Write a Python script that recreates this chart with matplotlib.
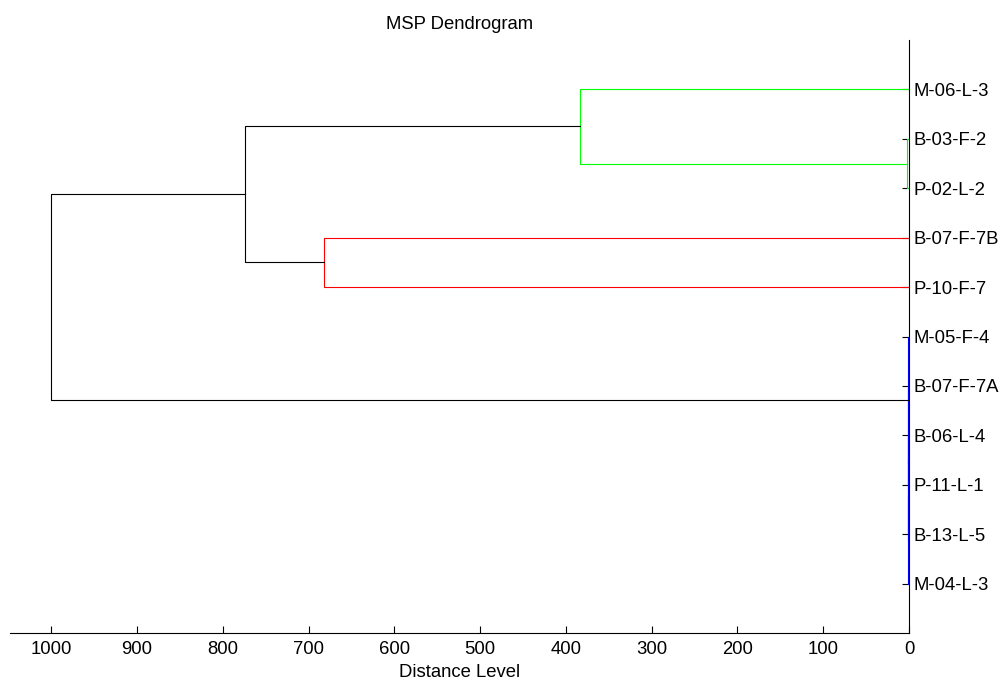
import matplotlib.pyplot as plt

plt.rcParams['font.family'] = ['Liberation Sans', 'DejaVu Sans']

# leaves, top to bottom
leaves = ["M-06-L-3", "B-03-F-2", "P-02-L-2", "B-07-F-7B", "P-10-F-7",
          "M-05-F-4", "B-07-F-7A", "B-06-L-4", "P-11-L-1", "B-13-L-5", "M-04-L-3"]

# merges: (left node, right node, distance, colour). nodes 0..10 are leaves,
# node 11+ is the i-th merge in this list
merges = [
    (1, 2, 2.0, "#00ff00"),       # 11
    (0, 11, 383.0, "#00ff00"),    # 12
    (3, 4, 682.0, "#ff0000"),     # 13
    (12, 13, 774.0, "black"),     # 14
    (7, 8, 1.0, "#0000ff"),       # 15
    (15, 9, 1.1, "#0000ff"),      # 16
    (16, 10, 1.2, "#0000ff"),     # 17
    (6, 17, 1.3, "#0000ff"),      # 18
    (5, 18, 1.4, "#0000ff"),      # 19
    (14, 19, 1000.0, "black"),    # 20
]


def build_positions():
    pos = {i: i + 1 for i in range(len(leaves))}
    dist = {i: 0.0 for i in range(len(leaves))}
    for k, (a, b, d, c) in enumerate(merges):
        n = len(leaves) + k
        pos[n] = (pos[a] + pos[b]) / 2.0
        dist[n] = d
    return pos, dist


fig = plt.figure(figsize=(10.01, 6.81), dpi=100)
ax = fig.add_axes([10 / 1001, 1 - 633 / 681, 899 / 1001, 593 / 681])

pos, dist = build_positions()
for a, b, d, c in merges:
    ax.plot([dist[a], d, d, dist[b]], [pos[a], pos[a], pos[b], pos[b]],
            color=c, lw=0.8, zorder=3)

fs = 13.3
ax.set_xlim(1048, 0)
ax.set_ylim(len(leaves) + 1, 0)
ax.set_xticks([1000, 900, 800, 700, 600, 500, 400, 300, 200, 100, 0])
ax.set_yticks(range(1, len(leaves) + 1))
ax.set_yticklabels(leaves)
ax.yaxis.tick_right()
ax.tick_params(axis='y', direction='in', length=5, labelsize=fs, pad=3)
ax.tick_params(axis='x', direction='in', length=5, labelsize=fs, pad=6)
for s in ['top', 'left']:
    ax.spines[s].set_visible(False)
for s in ['bottom', 'right']:
    ax.spines[s].set_linewidth(0.8)
ax.set_title("MSP Dendrogram", fontsize=fs, pad=8)
ax.set_xlabel("Distance Level", fontsize=fs, labelpad=4)

plt.savefig("out.png", dpi=100)
